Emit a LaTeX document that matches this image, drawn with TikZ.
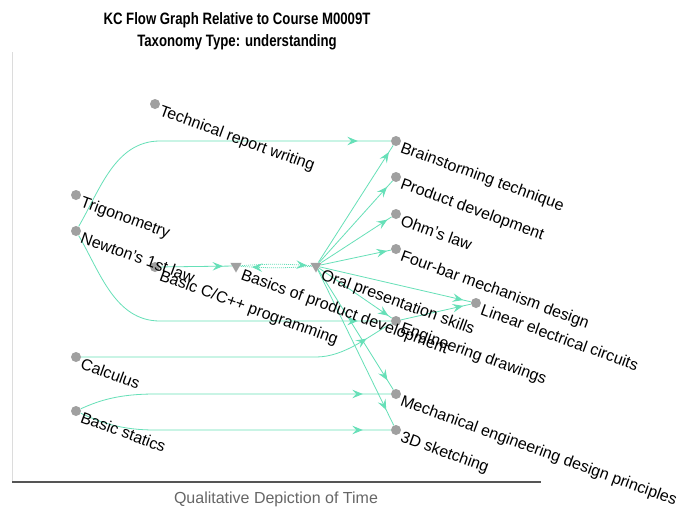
\documentclass[tikz,border=0pt]{standalone}
\usepackage{fontspec}
\setmainfont{Liberation Sans}
\newfontfamily\titlefont[FakeStretch=0.8]{Liberation Sans}
\usetikzlibrary{shapes.geometric,decorations.markings,arrows.meta,calc,backgrounds}
\definecolor{edgecol}{RGB}{102,224,184}
\definecolor{dotcol}{RGB}{160,160,160}
\definecolor{axiscol}{RGB}{85,85,85}
\definecolor{axislight}{RGB}{220,220,220}
\definecolor{labcol}{RGB}{102,102,102}
\begin{document}
\begin{tikzpicture}[x=1pt,y=-1pt,
  dot/.style={circle,fill=dotcol,minimum size=10pt,inner sep=0pt},
  tri/.style={regular polygon,regular polygon sides=3,shape border rotate=180,fill=dotcol,minimum size=13pt,inner sep=0pt},
  lbl/.style={rotate=-20,anchor=base west,inner sep=0pt,font=\fontsize{16}{19}\selectfont},
  conn/.style={color=edgecol,line width=0.8pt},
  dotconn/.style={color=edgecol,line width=0.8pt,dash pattern=on 1pt off 1pt},
  arr/.style={postaction={decorate,decoration={markings,mark=at position -#1 with {\arrow{Stealth[length=10.5pt,width=8.5pt,inset=4pt]}}}}},
  ttl/.style={anchor=base,inner sep=0pt,font=\titlefont\bfseries\fontsize{16.5}{19}\selectfont},
]
\useasboundingbox (0,0) rectangle (681,507);

% title
\node[ttl] (title1) at (237,24) {KC Flow Graph Relative to Course M0009T};
\node[ttl] (title2) at (237,46) {Taxonomy Type: understanding};

% axes
\draw[axislight,line width=1pt] (12,52) -- (12,482);
\draw[axiscol,line width=1.3pt] (12,482) -- (541,482);
\node[anchor=base,inner sep=0pt,text=labcol,font=\fontsize{16}{19}\selectfont] (xlab) at (276,503) {Qualitative Depiction of Time};

% nodes
\node[dot] (TR) at (155,104) {};
\node[dot] (TG) at (76,195) {};
\node[dot] (NW) at (76,231) {};
\node[dot] (CP) at (155,267) {};
\node[tri] (BP) at (236,266) {};
\node[tri] (OP) at (316,266) {};
\node[dot] (CA) at (76,357) {};
\node[dot] (BS) at (76,411) {};
\node[dot] (BT) at (396,141) {};
\node[dot] (PD) at (396,177) {};
\node[dot] (OL) at (396,214) {};
\node[dot] (FB) at (396,249) {};
\node[dot] (LC) at (476,303) {};
\node[dot] (ED) at (396,321) {};
\node[dot] (ME) at (396,394) {};
\node[dot] (SK) at (396,430) {};

% bend points
\coordinate (nb) at (160,141);
\coordinate (ne) at (160,321);
\coordinate (ca1) at (316,357);
\coordinate (s1) at (155,394);
\coordinate (s2) at (155,430);

% edges
\begin{pgfonlayer}{background}
\fill[white] (0,0) rectangle (681,507);
\draw[conn,arr=33pt] (NW) .. controls (100,190) and (115,141) .. (nb) -- (BT);
\draw[conn,arr=33pt] (NW) .. controls (100,272) and (115,321) .. (ne) -- (ED);
\draw[conn,arr=29pt] (CA) -- (ca1) .. controls (345,357) and (370,335) .. (ED);
\draw[conn,arr=28pt] (BS) .. controls (100,400) and (120,394) .. (s1) -- (ME);
\draw[conn,arr=28pt] (BS) .. controls (100,422) and (120,430) .. (s2) -- (SK);
\draw[conn,arr=9pt] (CP) -- (BP);
\draw[dotconn,arr=5pt] (BP) to[bend left=4] (OP);
\draw[dotconn,arr=12pt] (OP) to[bend left=4] (BP);
\draw[conn,arr=8pt] (OP) -- (BT);
\draw[conn,arr=8pt] (OP) -- (PD);
\draw[conn,arr=5pt] (OP) -- (OL);
\draw[conn,arr=4pt] (OP) -- (FB);
\draw[conn,arr=8pt] (OP) -- (LC);
\draw[conn,arr=4pt] (OP) -- (ED);
\draw[conn,arr=11pt] (OP) -- (ME);
\draw[conn,arr=17pt] (OP) -- (SK);
\draw[conn,arr=8pt] (ED) -- (LC);
\end{pgfonlayer}

% labels
\node[lbl] (lTR) at ($(TR)+(3.5,11)$) {Technical report writing};
\node[lbl] (lTG) at ($(TG)+(3.5,11)$) {Trigonometry};
\node[lbl] (lNW) at ($(NW)+(3.5,11)$) {Newton's 1st law};
\node[lbl] (lCP) at ($(CP)+(3.5,13)$) {Basic C/C++ programming};
\node[lbl] (lBP) at ($(BP)+(4,13)$) {Basics of product development};
\node[lbl] (lOP) at ($(OP)+(4,13)$) {Oral presentation skills};
\node[lbl] (lCA) at ($(CA)+(3.5,11)$) {Calculus};
\node[lbl] (lBS) at ($(BS)+(3.5,11)$) {Basic statics};
\node[lbl] (lBT) at ($(BT)+(3.5,11)$) {Brainstorming technique};
\node[lbl] (lPD) at ($(PD)+(3.5,11)$) {Product development};
\node[lbl] (lOL) at ($(OL)+(3.5,11)$) {Ohm's law};
\node[lbl] (lFB) at ($(FB)+(3.5,11)$) {Four-bar mechanism design};
\node[lbl] (lLC) at ($(LC)+(3.5,11)$) {Linear electrical circuits};
\node[lbl] (lED) at ($(ED)+(3.5,11)$) {Engineering drawings};
\node[lbl] (lME) at ($(ME)+(3.5,11)$) {Mechanical engineering design principles};
\node[lbl] (lSK) at ($(SK)+(3.5,11)$) {3D sketching};
\end{tikzpicture}
\end{document}
